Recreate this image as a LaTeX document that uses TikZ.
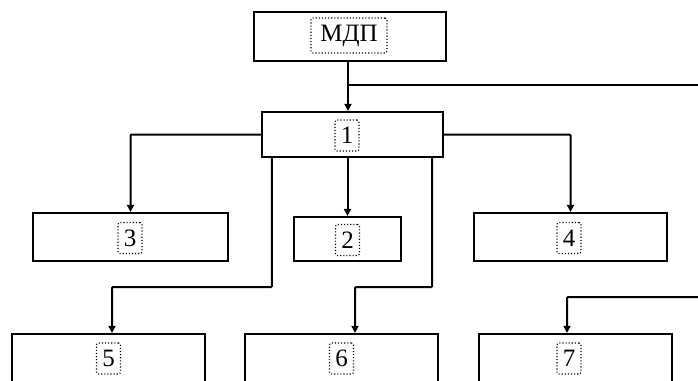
\documentclass[tikz,border=0pt]{standalone}
\usepackage{fontspec}
\setmainfont{Liberation Serif}
\usetikzlibrary{arrows.meta}
\begin{document}
\begin{tikzpicture}[x=1pt,y=-1pt,
  box/.style={draw, line width=2.2pt, inner sep=0pt},
  lab/.style={draw, dotted, line width=1.1pt, rounded corners=2pt, inner sep=0pt,
    minimum width=24pt, minimum height=31pt, font=\fontsize{25}{25}\selectfont},
  conn/.style={line width=2pt, rounded corners=1pt},
  arr/.style={conn, -{Triangle[length=7pt,width=7pt]}}]
\useasboundingbox (0,0) rectangle (698,380);
\clip (0,0) rectangle (698,380);
\fill[white] (0,0) rectangle (698,380);
% boxes
\node[box, minimum width=192pt, minimum height=49pt] (mdp) at (350,36.5) {};
\node[box, minimum width=181pt, minimum height=45pt] (b1) at (352.5,134.5) {};
\node[box, minimum width=195pt, minimum height=48pt] (b3) at (130.5,237) {};
\node[box, minimum width=107pt, minimum height=44pt] (b2) at (347.5,239) {};
\node[box, minimum width=193pt, minimum height=48pt] (b4) at (570.5,237) {};
\node[box, minimum width=193pt, minimum height=48pt] (b5) at (108.5,358) {};
\node[box, minimum width=193pt, minimum height=48pt] (b6) at (341.5,358) {};
\node[box, minimum width=193pt, minimum height=48pt] (b7) at (575.5,358) {};
% labels
\node[lab, minimum width=76pt, minimum height=35pt] (lmdp) at (349,35.5) {МДП};
\node[lab] (l1) at (347,135.5) {1};
\node[lab] (l3) at (130,238) {3};
\node[lab] (l2) at (347.5,240) {2};
\node[lab] (l4) at (569,238) {4};
\node[lab] (l5) at (108.5,358.5) {5};
\node[lab] (l6) at (341.5,358.5) {6};
\node[lab] (l7) at (569,358.5) {7};
% free ends
\coordinate (e1) at (700,85);
\coordinate (e2) at (700,297);
% connectors
\draw[arr] ([xshift=-2pt]mdp.south) -- ([xshift=-2pt]mdp.south |- b1.north);
\draw[line width=1.6pt] ([xshift=-2pt]mdp.south |- e1) -- (e1);
\draw[arr] (b1.west) -| (b3.north);
\draw[arr] (b1.east) -| (b4.north);
\draw[arr] (b2.north |- b1.south) -- (b2.north);
\draw[arr] ([xshift=11pt]b1.south west) -- ++(0,129) -| ([xshift=3.5pt]b5.north);
\draw[arr] ([xshift=-12pt]b1.south east) -- ++(0,129) -| ([xshift=13.5pt]b6.north);
\draw[arr] (e2) -| ([xshift=-8.5pt]b7.north);
\end{tikzpicture}
\end{document}
